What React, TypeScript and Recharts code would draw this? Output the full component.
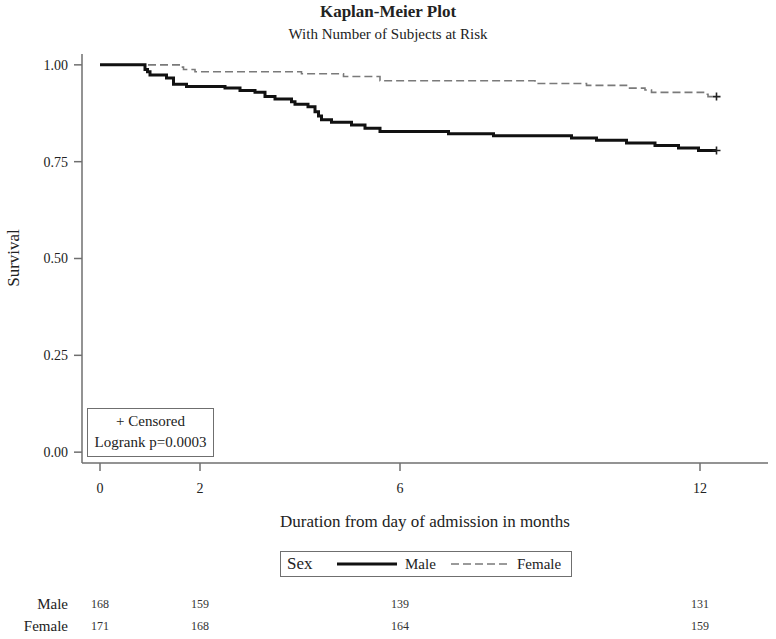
import React from "react";
import {
  ComposedChart,
  Line,
  Scatter,
  XAxis,
  YAxis,
} from "recharts";

const FONT = '"Liberation Serif", "DejaVu Serif", serif';
const AXIS_GRAY = "#6f6f6f";

// months from admission / survival estimate
const maleTimes = [0, 0.9, 0.95, 1.0, 1.33, 1.47, 1.73, 2.5, 2.8, 3.1, 3.3, 3.5, 3.83, 3.9, 4.16, 4.3, 4.37, 4.43, 4.63, 5.03, 5.3, 5.6, 6.97, 7.87, 9.43, 9.93, 10.53, 11.1, 11.57, 11.97, 12.33];
const maleSurv = [1.0, 0.988, 0.982, 0.974, 0.966, 0.95, 0.944, 0.94, 0.934, 0.929, 0.918, 0.912, 0.905, 0.898, 0.892, 0.879, 0.868, 0.858, 0.852, 0.845, 0.836, 0.828, 0.822, 0.817, 0.811, 0.805, 0.798, 0.792, 0.785, 0.779, 0.779];

const femaleTimes = [0, 1.6, 1.67, 1.9, 4.03, 4.87, 5.6, 8.7, 9.73, 10.53, 10.9, 11.03, 12.07, 12.16, 12.33];
const femaleSurv = [1.0, 0.994, 0.988, 0.982, 0.977, 0.97, 0.959, 0.952, 0.947, 0.94, 0.935, 0.929, 0.924, 0.918, 0.918];

const xTicks = [0, 2, 6, 12];
const yTicks = [0, 0.25, 0.5, 0.75, 1];

// number at risk
const riskTimes = [0, 2, 6, 12];
const maleRisk = [168, 159, 139, 131];
const femaleRisk = [171, 168, 164, 159];

const X_DOMAIN: [number, number] = [-0.36, 13.36];
const Y_DOMAIN: [number, number] = [-0.028, 1.028];

const maleData = maleTimes.map((t, i) => ({ t, s: maleSurv[i] }));
const femaleData = femaleTimes.map((t, i) => ({ t, s: femaleSurv[i] }));
const maleCensored = [maleData[maleData.length - 1]];
const femaleCensored = [femaleData[femaleData.length - 1]];

const Plus = (props: any) => {
  const { cx, cy } = props;
  return (
    <path
      d={`M${cx - 4},${cy}H${cx + 4}M${cx},${cy - 4}V${cy + 4}`}
      stroke="#222"
      strokeWidth={1.6}
      fill="none"
    />
  );
};

const tickStyle = { fill: "#222", fontSize: 14, fontFamily: FONT };
const riskTick = { fill: "#333", fontSize: 12, fontFamily: FONT };

// bottom axes are stacked in id order: a = time axis, b = male at risk, c = female at risk
export default function App() {
  return (
    <div
      style={{
        position: "absolute",
        left: 0,
        top: 0,
        width: 776,
        height: 639,
        background: "#fff",
        fontFamily: FONT,
        color: "#222",
      }}
    >
      <div style={{ position: "absolute", left: 0, width: 776, top: 2, textAlign: "center", fontSize: 17, fontWeight: "bold" }}>
        Kaplan-Meier Plot
      </div>
      <div style={{ position: "absolute", left: 0, width: 776, top: 26, textAlign: "center", fontSize: 15 }}>
        With Number of Subjects at Risk
      </div>

      <ComposedChart
        width={776}
        height={639}
        margin={{ top: 54, right: 8, bottom: 2, left: 22 }}
      >
        <XAxis
          xAxisId="a_time"
          type="number"
          dataKey="t"
          domain={X_DOMAIN}
          ticks={xTicks}
          allowDataOverflow
          height={130}
          tickSize={8}
          tickMargin={12}
          stroke={AXIS_GRAY}
          strokeWidth={1.5}
          tick={tickStyle}
          label={{
            value: "Duration from day of admission in months",
            position: "insideTop",
            offset: 52,
            fill: "#222",
            fontSize: 17,
            fontFamily: FONT,
          }}
        />
        <XAxis
          xAxisId="b_male"
          type="number"
          dataKey="t"
          domain={X_DOMAIN}
          ticks={riskTimes}
          allowDataOverflow
          height={22}
          tickSize={0}
          tickMargin={6}
          axisLine={false}
          tickLine={false}
          tick={riskTick}
          tickFormatter={(v: number) => String(maleRisk[riskTimes.indexOf(v)])}
          label={{ value: "Male", position: "left", offset: 14, fill: "#222", fontSize: 15, fontFamily: FONT }}
        />
        <XAxis
          xAxisId="c_female"
          type="number"
          dataKey="t"
          domain={X_DOMAIN}
          ticks={riskTimes}
          allowDataOverflow
          height={22}
          tickSize={0}
          tickMargin={6}
          axisLine={false}
          tickLine={false}
          tick={riskTick}
          tickFormatter={(v: number) => String(femaleRisk[riskTimes.indexOf(v)])}
          label={{ value: "Female", position: "left", offset: 14, fill: "#222", fontSize: 15, fontFamily: FONT }}
        />
        <XAxis
          xAxisId="top"
          orientation="top"
          type="number"
          dataKey="t"
          domain={X_DOMAIN}
          allowDataOverflow
          height={0}
          tick={false}
          tickLine={false}
          stroke={AXIS_GRAY}
          strokeWidth={1.5}
        />
        <YAxis
          yAxisId="main"
          type="number"
          domain={Y_DOMAIN}
          ticks={yTicks}
          allowDataOverflow
          width={60}
          tickSize={8}
          tickMargin={6}
          stroke={AXIS_GRAY}
          strokeWidth={1.5}
          tick={tickStyle}
          tickFormatter={(v: number) => v.toFixed(2)}
        />
        <YAxis
          yAxisId="right"
          orientation="right"
          type="number"
          domain={Y_DOMAIN}
          allowDataOverflow
          width={0}
          tick={false}
          tickLine={false}
          stroke={AXIS_GRAY}
          strokeWidth={1.5}
        />

        <Line
          xAxisId="a_time"
          yAxisId="main"
          data={femaleData}
          dataKey="s"
          type="stepAfter"
          stroke="#7a7a7a"
          strokeWidth={1.6}
          strokeDasharray="8 4"
          dot={false}
          isAnimationActive={false}
        />
        <Line
          xAxisId="a_time"
          yAxisId="main"
          data={maleData}
          dataKey="s"
          type="stepAfter"
          stroke="#111"
          strokeWidth={3}
          dot={false}
          isAnimationActive={false}
        />
        <Scatter xAxisId="a_time" yAxisId="main" data={maleCensored} dataKey="s" shape={Plus} isAnimationActive={false} />
        <Scatter xAxisId="a_time" yAxisId="main" data={femaleCensored} dataKey="s" shape={Plus} isAnimationActive={false} />
      </ComposedChart>

      <div
        style={{
          position: "absolute",
          left: 14,
          top: 258,
          transform: "translate(-50%, -50%) rotate(-90deg)",
          fontSize: 17,
          whiteSpace: "nowrap",
        }}
      >
        Survival
      </div>

      <div
        style={{
          position: "absolute",
          left: 87,
          top: 408,
          width: 125,
          height: 45,
          border: "1.5px solid #6f6f6f",
          fontSize: 15,
          textAlign: "center",
          lineHeight: "21px",
          paddingTop: 2,
          boxSizing: "content-box",
        }}
      >
        <div>+ Censored</div>
        <div>Logrank p=0.0003</div>
      </div>

      <div
        style={{
          position: "absolute",
          left: 280,
          top: 551,
          width: 290,
          height: 24,
          border: "1.5px solid #6f6f6f",
          display: "flex",
          alignItems: "center",
          fontSize: 15,
        }}
      >
        <span style={{ fontSize: 17, marginLeft: 6, width: 50 }}>Sex</span>
        <svg width={62} height={10}>
          <line x1={0} y1={5} x2={60} y2={5} stroke="#111" strokeWidth={3} />
        </svg>
        <span style={{ marginLeft: 6, width: 46 }}>Male</span>
        <svg width={62} height={10}>
          <line x1={0} y1={5} x2={58} y2={5} stroke="#7a7a7a" strokeWidth={1.6} strokeDasharray="8 4" />
        </svg>
        <span style={{ marginLeft: 4 }}>Female</span>
      </div>
    </div>
  );
}
